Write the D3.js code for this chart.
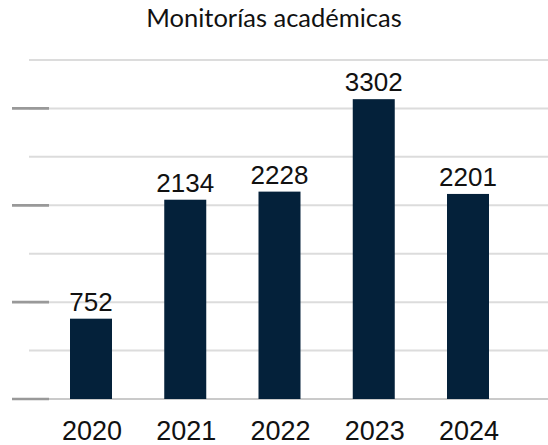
<!DOCTYPE html>
<html><head><meta charset="utf-8">
<script src="https://cdn.jsdelivr.net/npm/d3@7"></script>
<style>html,body{margin:0;padding:0;background:#fff;}</style>
</head><body>
<script>
const title = "Monitorías académicas";
const years = ["2020", "2021", "2022", "2023", "2024"];
const values = [752, 2134, 2228, 3302, 2201];
const gridSteps = [0, 1, 2, 3, 4, 5, 6, 7];
const majorSteps = [0, 2, 4, 6];

const W = 548, H = 445;
const svg = d3.select("body").append("svg").attr("width", W).attr("height", H);

const baseY = 399, topY = 60;
const x = d3.scalePoint().domain(years).range([91, 468]);
const y = d3.scaleLinear().domain([-181, 3757]).range([baseY, topY]);
const g = d3.scaleLinear().domain([0, 7]).range([baseY, topY]);

// gridlines
svg.append("g").selectAll("line").data(gridSteps.filter(d => d > 0)).join("line")
  .attr("x1", 29).attr("x2", W)
  .attr("y1", d => g(d)).attr("y2", d => g(d))
  .attr("stroke", "#dcdcdc").attr("stroke-width", 2);

// baseline
svg.append("line").attr("x1", 49).attr("x2", W).attr("y1", baseY).attr("y2", baseY)
  .attr("stroke", "#b8b8b8").attr("stroke-width", 1.5);

// left tick marks
svg.append("g").selectAll("line").data(majorSteps).join("line")
  .attr("x1", 12).attr("x2", 49)
  .attr("y1", d => g(d)).attr("y2", d => g(d))
  .attr("stroke", "#999").attr("stroke-width", 2.7);

const bw = 42;
svg.append("g").selectAll("rect").data(values).join("rect")
  .attr("x", (d, i) => x(years[i]) - bw / 2)
  .attr("y", d => y(d))
  .attr("width", bw)
  .attr("height", d => baseY - y(d))
  .attr("fill", "#04213a");

svg.append("g").selectAll("text").data(values).join("text")
  .attr("x", (d, i) => x(years[i]))
  .attr("y", d => y(d) - 8)
  .attr("text-anchor", "middle")
  .attr("font-family", "Liberation Sans, Arial, sans-serif")
  .attr("font-size", 26)
  .attr("fill", "#111")
  .text(d => d);

svg.append("g").selectAll("text").data(years).join("text")
  .attr("x", d => x(d) + 1)
  .attr("y", 440)
  .attr("text-anchor", "middle")
  .attr("font-family", "Liberation Sans, Arial, sans-serif")
  .attr("font-size", 27)
  .attr("fill", "#111")
  .text(d => d);

svg.append("text").attr("x", W / 2).attr("y", 27)
  .attr("text-anchor", "middle")
  .attr("font-family", "Lato, sans-serif")
  .attr("font-size", 25.5)
  .attr("fill", "#111")
  .text(title);
</script>
</body></html>
